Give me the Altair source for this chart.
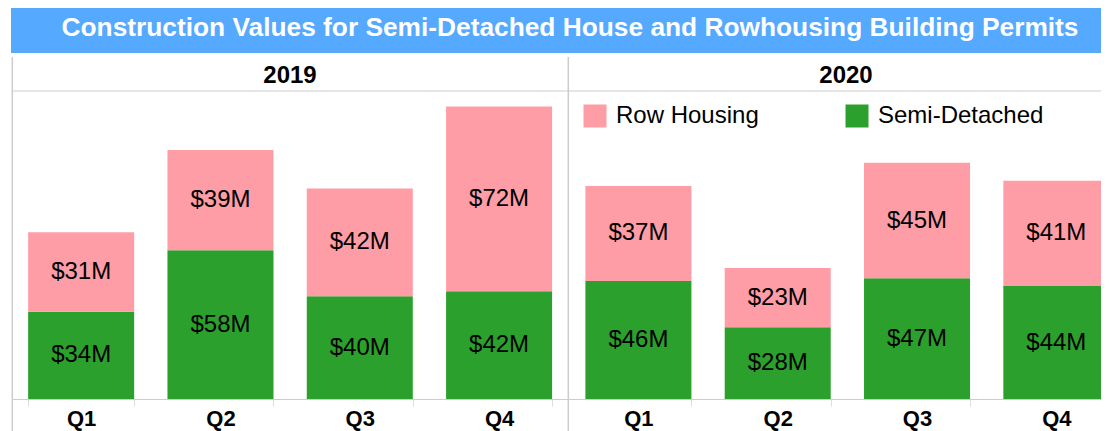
import altair as alt
import pandas as pd

# ---------------- data ----------------
years = ["2019", "2020"]
quarters = ["Q1", "Q2", "Q3", "Q4"]
semi_detached = [34, 58, 40, 42, 46, 28, 47, 44]
row_housing = [31, 39, 42, 72, 37, 23, 45, 41]
series_names = ["Row Housing", "Semi-Detached"]
series_colors = ["#FF9DA7", "#2CA02C"]
title_text = "Construction Values for Semi-Detached House and Rowhousing Building Permits"

keys = [f"{y} {q}" for y in years for q in quarters]
records = []
for i, k in enumerate(keys):
    records.append({"key": k, "series": "Semi-Detached", "value": semi_detached[i], "ord": 0})
    records.append({"key": k, "series": "Row Housing", "value": row_housing[i], "ord": 1})
df = pd.DataFrame(records)
one = pd.DataFrame({"a": [0]})

FONT = "Liberation Sans"
XR = 1114           # full x range (right part is cut by the window)
PW, PH = 1089, 391  # visible plot area
TOP = 83            # top of bar region inside the plot area
LINE = "#cccccc"

x_enc = alt.X(
    "key:N", sort=keys, title=None,
    scale=alt.Scale(range=[-0.5, XR], paddingInner=0.239, paddingOuter=0.1195),
    axis=alt.Axis(labelExpr="split(datum.label, ' ')[1]", labelAngle=0,
                  labelFontSize=22, labelFontWeight="bold", labelColor="black",
                  labelFont=FONT, domainColor=LINE, tickColor="#dddddd",
                  tickSize=7, tickBand="extent", labelPadding=2, grid=False),
)
y_scale = alt.Scale(domain=[0, 120], range=[PH, TOP], nice=False, zero=True)

base = alt.Chart(df).transform_stack(
    stack="value", groupby=["key"], as_=["v0", "v1"],
    sort=[alt.SortField("ord", order="ascending")],
).transform_calculate(
    mid="(datum.v0 + datum.v1) / 2",
    label="'$' + datum.value + 'M'",
)

bars = base.mark_bar().encode(
    x=x_enc,
    y=alt.Y("v0:Q", scale=y_scale,
            axis=alt.Axis(values=[50, 100], grid=True, gridColor="#eeeeee",
                          labels=False, ticks=False, domain=False, title=None)),
    y2="v1:Q",
    color=alt.Color(
        "series:N",
        scale=alt.Scale(domain=series_names, range=series_colors),
        legend=alt.Legend(title=None, orient="none", legendX=571, legendY=96,
                          direction="horizontal", symbolType="square",
                          symbolSize=529, symbolStrokeWidth=0, symbolOpacity=1,
                          labelFontSize=24, labelColor="black", labelFont=FONT,
                          labelOffset=9, columnPadding=86, padding=0,
                          labelLimit=300),
    ),
)

labels = base.mark_text(fontSize=24, color="black", font=FONT).encode(
    x=alt.X("key:N", sort=keys),
    y=alt.Y("mid:Q", scale=y_scale, axis=None),
    text="label:N",
)

title_bar = alt.Chart(one).mark_rect(color="#55A9FF").encode(
    x=alt.value(-1), x2=alt.value(XR), y=alt.value(0), y2=alt.value(45))
title_mark = alt.Chart(one).mark_text(
    text=title_text, fontSize=26.3, fontWeight="bold", color="white", font=FONT,
    align="center", baseline="alphabetic").encode(x=alt.value(558), y=alt.value(28))

header_line = alt.Chart(one).mark_rule(color=LINE, strokeWidth=1).encode(
    x=alt.value(0), x2=alt.value(XR), y=alt.value(TOP))
vline_left = alt.Chart(one).mark_rule(color=LINE, strokeWidth=1.5).encode(
    x=alt.value(0.3), y=alt.value(49), y2=alt.value(440))
vline_mid = alt.Chart(one).mark_rule(color=LINE, strokeWidth=1.5).encode(
    x=alt.value(556.3), y=alt.value(49), y2=alt.value(440))

head_2019 = alt.Chart(one).mark_text(
    text=years[0], fontSize=24, fontWeight="bold", color="black", font=FONT,
    align="center", baseline="alphabetic").encode(x=alt.value(278), y=alt.value(75))
head_2020 = alt.Chart(one).mark_text(
    text=years[1], fontSize=24, fontWeight="bold", color="black", font=FONT,
    align="center", baseline="alphabetic").encode(x=alt.value(834), y=alt.value(75))

chart = alt.layer(
    title_bar, title_mark, header_line, vline_left, vline_mid,
    head_2019, head_2020, bars, labels,
).properties(
    width=PW, height=PH,
    autosize=alt.AutoSizeParams(type="none"),
    padding={"left": 4, "top": 0, "right": 0, "bottom": 32},
).configure(font=FONT).configure_view(stroke=None)

chart.save("out.html", embed_options={"renderer": "svg", "actions": False})
